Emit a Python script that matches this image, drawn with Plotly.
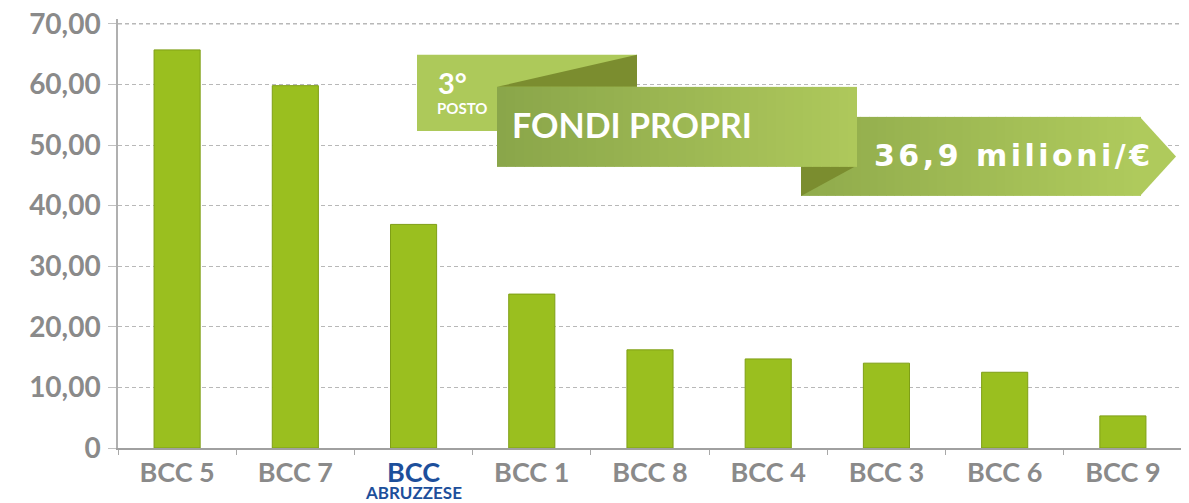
import plotly.graph_objects as go

# ---- data ----
categories = ["BCC 5", "BCC 7", "BCC ABRUZZESE", "BCC 1", "BCC 8", "BCC 4", "BCC 3", "BCC 6", "BCC 9"]
values = [65.7, 59.8, 36.9, 25.4, 16.2, 14.7, 14.0, 12.5, 5.3]
x_labels = ["BCC 5", "BCC 7", "<span style='color:#1d4f9b'>BCC</span>",
            "BCC 1", "BCC 8", "BCC 4", "BCC 3", "BCC 6", "BCC 9"]
highlight_category = "BCC ABRUZZESE"
highlight_sub = "ABRUZZESE"
y_ticks = [0, 10, 20, 30, 40, 50, 60, 70]
y_tick_labels = ["0", "10,00", "20,00", "30,00", "40,00", "50,00", "60,00", "70,00"]
y_max = 70.8
rank_text = "3°"
rank_sub = "POSTO"
banner_title = "FONDI PROPRI"
banner_value = "36,9 milioni/€"

# ---- layout geometry (page pixels; page body has an 8px margin) ----
OFF = 8
PAGE_W, PAGE_H = 1189, 503
PBASE = 448                      # page y of value 0
Y70 = 24                         # page y of value 70
PH = (PBASE - Y70) * y_max / 70.0
PT = PBASE - PH
PL, PR_EDGE = 118, 1182
PW = PR_EDGE - PL
FW, FH = PAGE_W - OFF, PAGE_H - OFF
M_L, M_T = PL - OFF, PT - OFF
M_R = FW - M_L - PW
M_B = FH - M_T - PH

GRID_COLOR = "#b8b8b8"
GRID_DASH = "4px,3px"


def px(x):
    return (x - PL) / PW


def py(y):
    return (PBASE - y) / PH


def lerp_color(c0, c1, t):
    a = [int(c0[i:i + 2], 16) for i in (1, 3, 5)]
    b = [int(c1[i:i + 2], 16) for i in (1, 3, 5)]
    return "#%02x%02x%02x" % tuple(round(a[k] + (b[k] - a[k]) * t) for k in range(3))


shapes = []

# make sure the top gridline is drawn
shapes.append(dict(type="line", xref="paper", yref="y", layer="below",
                   x0=0, x1=1, y0=y_ticks[-1], y1=y_ticks[-1],
                   line=dict(color=GRID_COLOR, width=1.3, dash=GRID_DASH)))


def rect(x0, y0, x1, y1, color):
    shapes.append(dict(type="rect", xref="paper", yref="paper", layer="above",
                       x0=px(x0), x1=px(x1), y0=py(y1), y1=py(y0),
                       fillcolor=color, line=dict(width=0)))


def poly(points, color):
    d = "M " + " L ".join(f"{px(a)},{py(b)}" for a, b in points) + " Z"
    shapes.append(dict(type="path", xref="paper", yref="paper", layer="above",
                       path=d, fillcolor=color, line=dict(width=0)))


def grad_rect(x0, y0, x1, y1, c0, c1, n=40):
    step = (x1 - x0) / n
    for i in range(n):
        xa = x0 + i * step
        xb = xa + step + 0.6
        rect(xa, y0, min(xb, x1), y1, lerp_color(c0, c1, i / (n - 1)))


# small "3° POSTO" box and fold
rect(417, 55, 637, 131, "#adc95a")
poly([(497, 87), (637, 55), (637, 87)], "#7b8d2f")
# value ribbon (arrow)
grad_rect(801, 117, 1141, 196, "#90ab4c", "#afca5c")
poly([(1140, 117), (1176, 156.5), (1140, 196)], "#afca5c")
poly([(801, 166), (856, 166), (801, 196)], "#7b8d2f")
# main title ribbon
grad_rect(497, 87, 857, 167, "#8aa64a", "#aec85b")

annotations = [
    dict(xref="paper", yref="paper", x=px(436), y=py(83), xanchor="left", yanchor="middle",
         text=f"<b>{rank_text}</b>", showarrow=False,
         font=dict(family="Lato", size=29, color="white")),
    dict(xref="paper", yref="paper", x=px(435), y=py(108), xanchor="left", yanchor="middle",
         text=f"<b>{rank_sub}</b>", showarrow=False,
         font=dict(family="Lato", size=15, color="white")),
    dict(xref="paper", yref="paper", x=px(510), y=py(125), xanchor="left", yanchor="middle",
         text=f"<b>{banner_title}</b>", showarrow=False,
         font=dict(family="Lato", size=34, color="white")),
    dict(xref="paper", yref="paper", x=px(872), y=py(156), xanchor="left", yanchor="middle",
         text=f"<b><span style='letter-spacing:3.5px'>{banner_value}</span></b>", showarrow=False,
         font=dict(family="DejaVu Sans", size=30, color="white")),
    dict(xref="x", yref="paper", x=highlight_category, y=py(492), xanchor="center", yanchor="middle",
         text=f"<b>{highlight_sub}</b>", showarrow=False,
         font=dict(family="Lato", size=17, color="#1d4f9b")),
]

fig = go.Figure(go.Bar(
    x=categories, y=values, width=0.39,
    marker=dict(color="#9abf1f", line=dict(color="#7f9f16", width=1)),
))

fig.update_layout(
    width=FW, height=FH,
    margin=dict(l=M_L, r=M_R, t=M_T, b=M_B, autoexpand=False),
    paper_bgcolor="white", plot_bgcolor="white",
    showlegend=False,
    shapes=shapes,
    annotations=annotations,
    font=dict(family="Lato", color="#8a8a8a"),
    xaxis=dict(
        tickvals=categories, ticktext=x_labels,
        tickfont=dict(family="Lato", size=27, color="#8a8a8a", weight="bold"),
        showline=True, linecolor="#a0a0a0", linewidth=2,
        ticks="outside", tickson="boundaries", ticklen=5, tickcolor="#a8a8a8",
        showgrid=False, automargin=False,
    ),
    yaxis=dict(
        range=[0, y_max],
        tickvals=y_ticks, ticktext=y_tick_labels,
        tickfont=dict(family="Lato", size=28, color="#8a8a8a", weight="bold"),
        showline=True, linecolor="#b0b0b0", linewidth=1.5,
        ticks="outside", ticklen=8, tickcolor="#c0c0c0",
        showgrid=True, gridcolor=GRID_COLOR, griddash=GRID_DASH, gridwidth=1.3,
        zeroline=False, automargin=False,
        ticklabelstandoff=2, ticklabeloverflow="allow",
    ),
)

fig.write_html("out.html")
